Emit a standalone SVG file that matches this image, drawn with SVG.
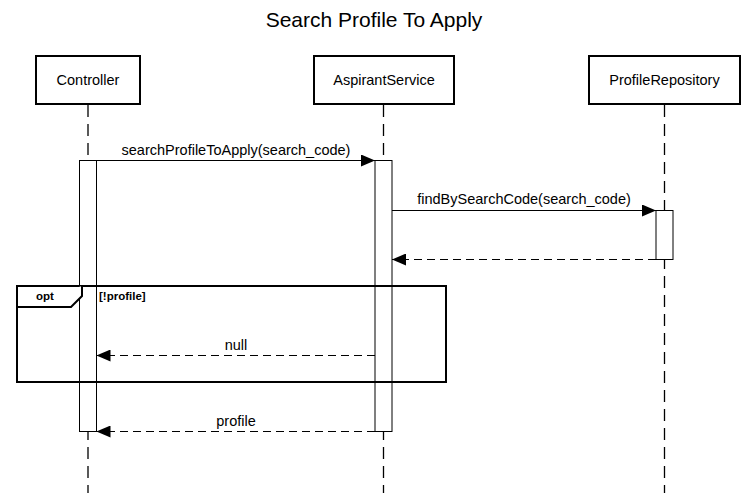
<svg xmlns="http://www.w3.org/2000/svg" width="748" height="493" viewBox="0 0 748 493">
<style>
text{font-family:"Liberation Sans",Arial,Helvetica,sans-serif;fill:#000}
.title{font-size:21px;text-anchor:middle}
.actor{fill:#fff;stroke:#000;stroke-width:2}
.lbl{font-size:14.5px;text-anchor:middle}
.life{stroke:#000;stroke-width:1.3;stroke-dasharray:12 7;fill:none}
.act{fill:#fff;stroke:#000;stroke-width:1}
.msg{stroke:#000;stroke-width:1;fill:none}
.ret{stroke:#000;stroke-width:1;fill:none;stroke-dasharray:8 5}
.frame{fill:none;stroke:#000;stroke-width:2}
.ftxt{font-size:11.5px;font-weight:bold}
</style>
<defs>
<marker id="ah" markerUnits="userSpaceOnUse" markerWidth="14" markerHeight="12" refX="14" refY="6" orient="auto">
<path d="M0,0 L14,6 L0,12 Z" fill="#000"/>
</marker>
</defs>
<rect width="748" height="493" fill="#fff"/>
<text class="title" x="374" y="27">Search Profile To Apply</text>

<g id="lifelines">
<line class="life" x1="88" y1="105" x2="88" y2="493"/>
<line class="life" x1="383.5" y1="105" x2="383.5" y2="493"/>
<line class="life" x1="664.5" y1="105" x2="664.5" y2="493"/>
</g>

<g id="Controller">
<rect class="actor" x="36" y="56" width="104" height="48"/>
<text class="lbl" x="88" y="85">Controller</text>
</g>
<g id="AspirantService">
<rect class="actor" x="314" y="56" width="140" height="48"/>
<text class="lbl" x="384" y="85">AspirantService</text>
</g>
<g id="ProfileRepository">
<rect class="actor" x="589" y="56" width="151" height="48"/>
<text class="lbl" x="664.5" y="85">ProfileRepository</text>
</g>

<g id="activations">
<rect class="act" x="79.5" y="160.5" width="17" height="271"/>
<rect class="act" x="375" y="160.5" width="17" height="271"/>
<rect class="act" x="656" y="210.5" width="17" height="49"/>
</g>

<g id="opt-frame">
<rect class="frame" x="17" y="286" width="429" height="96"/>
<path d="M17,307 L71,307 L82,296 L82,286" fill="#fff" stroke="#000" stroke-width="2"/>
<text class="ftxt" x="45" y="300" text-anchor="middle">opt</text>
<text class="ftxt" x="99" y="300">[!profile]</text>
</g>

<g id="connectors">
<line class="msg" x1="96.5" y1="160.5" x2="375" y2="160.5" marker-end="url(#ah)"/>
<text class="lbl" x="236" y="155">searchProfileToApply(search_code)</text>
<line class="msg" x1="392" y1="210.5" x2="656" y2="210.5" marker-end="url(#ah)"/>
<text class="lbl" x="524" y="204">findBySearchCode(search_code)</text>
<line class="ret" x1="656" y1="259.5" x2="392" y2="259.5" marker-end="url(#ah)"/>
<line class="ret" x1="375" y1="355.5" x2="96.5" y2="355.5" marker-end="url(#ah)"/>
<text class="lbl" x="236" y="350">null</text>
<line class="ret" x1="375" y1="431.5" x2="96.5" y2="431.5" marker-end="url(#ah)"/>
<text class="lbl" x="236" y="426">profile</text>
</g>
</svg>
